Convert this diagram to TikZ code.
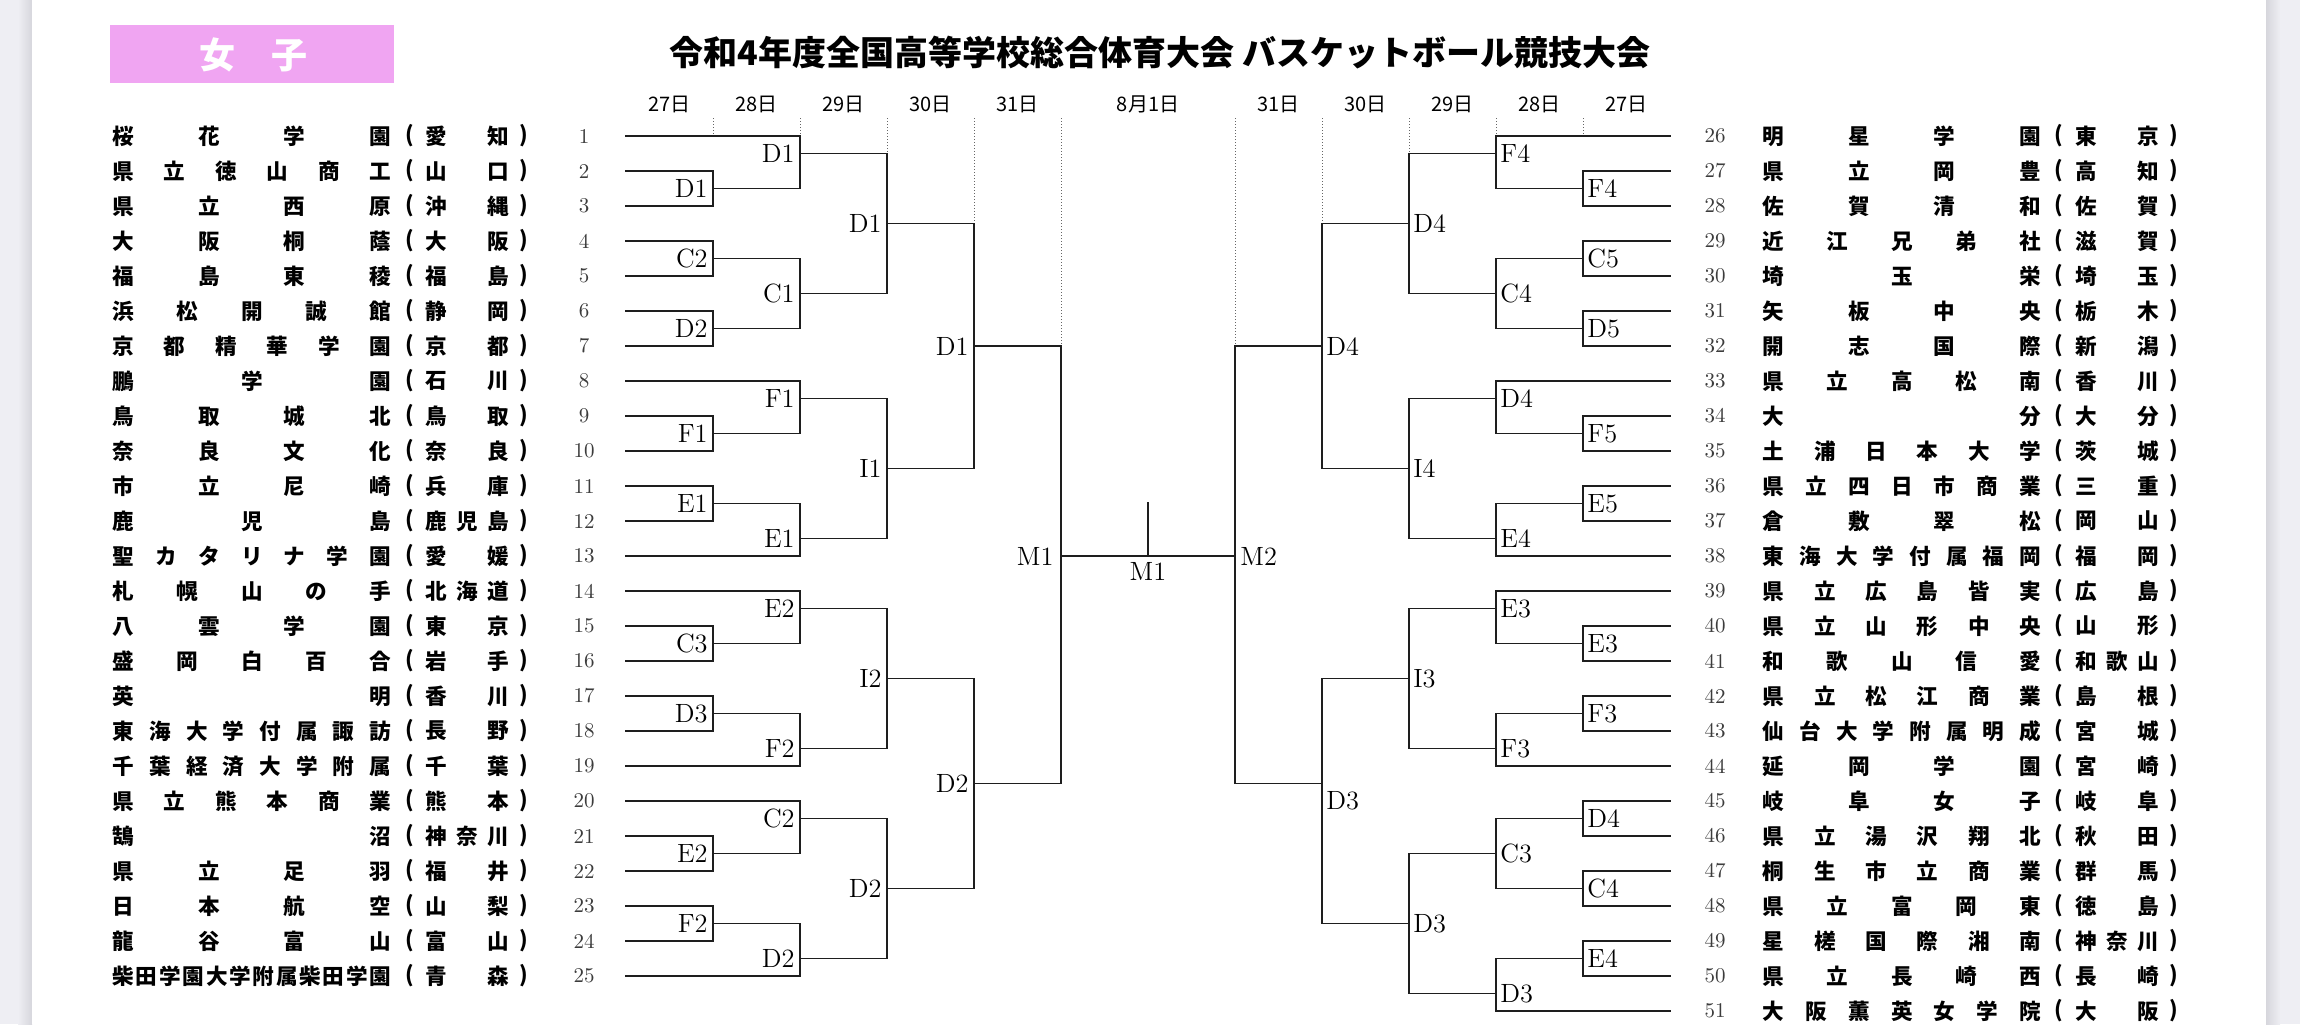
\documentclass[tikz,border=0pt]{standalone}
\usepackage{fontspec}
\newfontfamily\jp{Noto Sans CJK JP}
\definecolor{pinkbox}{RGB}{240,165,242}
\definecolor{bgc}{RGB}{238,238,243}
\definecolor{bgd}{RGB}{214,214,220}
\definecolor{ink}{RGB}{30,30,30}
\definecolor{numc}{RGB}{60,60,60}
\makeatletter
\def\distr#1#2{\hbox to #1{\expandafter\distr@a#2\relax}}
\def\distr@a#1{#1\distr@b}
\def\distr@b#1{\ifx\relax#1\else\hfill#1\expandafter\distr@b\fi}
\makeatother
\def\yy#1{101+35*(#1)}
\begin{document}
\begin{tikzpicture}[x=0.5pt,y=-0.5pt,
  br/.style={line width=0.95pt,draw=ink,line cap=rect},
  dot/.style={line width=0.5pt,draw=black!60,dash pattern=on 0.6pt off 0.9pt},
  lab/.style={font=\fontsize{13.2}{13}\selectfont,inner sep=0pt,text=black},
  num/.style={font=\fontsize{10.5}{11}\selectfont,inner sep=0pt,text=numc},
  nm/.style={font=\jp\bfseries\fontsize{10.8}{11}\selectfont,inner sep=0pt,text=black},
  dt/.style={font=\jp\fontsize{10}{10}\selectfont,inner sep=0pt,text=black}]
\useasboundingbox (0,0) rectangle (2300,1024);
% background sheet
\fill[bgc] (0,0) rectangle (2300,1024);
\shade[left color=bgc,right color=bgd] (18,0) rectangle (32,1024);
\shade[left color=bgd,right color=bgc] (2266,0) rectangle (2280,1024);
\fill[white] (32,0) rectangle (2266,1024);
% header
\fill[pinkbox] (110,25) rectangle (394,83);
\node[font=\jp\bfseries\fontsize{18}{18}\selectfont,text=white,inner sep=0pt] (girls) at (253,55) {女　子};
\node[font=\jp\bfseries\fontsize{17}{17}\selectfont,inner sep=0pt] (title) at (1160,53) {令和4年度全国高等学校総合体育大会 バスケットボール競技大会};
\foreach \x/\t [count=\i] in {669.5/27日,756.5/28日,843.5/29日,930.5/30日,1017.5/31日,1148/8月1日,1278.5/31日,1365.5/30日,1452.5/29日,1539.5/28日,1626.5/27日}
  \node[dt] (day\i) at (\x,104) {\t};
% dotted guides
\foreach \x/\r in {713/1,800/1,887/1.5,974/3.5,1061/7,1235/7,1322/3.5,1409/1.5,1496/1,1583/1}
  \draw[dot] (\x,118) -- (\x,{\yy{\r}});
% left teams
\foreach \n/\s/\p in {1/桜花学園/愛知,2/県立徳山商工/山口,3/県立西原/沖縄,4/大阪桐蔭/大阪,5/福島東稜/福島,6/浜松開誠館/静岡,7/京都精華学園/京都,8/鵬学園/石川,9/鳥取城北/鳥取,10/奈良文化/奈良,11/市立尼崎/兵庫,12/鹿児島/鹿児島,13/聖カタリナ学園/愛媛,14/札幌山の手/北海道,15/八雲学園/東京,16/盛岡白百合/岩手,17/英明/香川,18/東海大学付属諏訪/長野,19/千葉経済大学附属/千葉,20/県立熊本商業/熊本,21/鵠沼/神奈川,22/県立足羽/福井,23/日本航空/山梨,24/龍谷富山/富山,25/柴田学園大学附属柴田学園/青森}{
  \node[num] (ln\n) at (584,{\yy{\n}}) {\n};
  \node[nm,anchor=west] (ls\n) at (112.2,{\yy{\n}}) {\distr{139.3pt}{\s}};
  \node[nm] (lo\n) at (410,{\yy{\n}}) {(};
  \node[nm,anchor=west] (lp\n) at (424.7,{\yy{\n}}) {\distr{42pt}{\p}};
  \node[nm] (lc\n) at (524,{\yy{\n}}) {)};
}
% right teams
\foreach \k/\s/\p in {1/明星学園/東京,2/県立岡豊/高知,3/佐賀清和/佐賀,4/近江兄弟社/滋賀,5/埼玉栄/埼玉,6/矢板中央/栃木,7/開志国際/新潟,8/県立高松南/香川,9/大分/大分,10/土浦日本大学/茨城,11/県立四日市商業/三重,12/倉敷翠松/岡山,13/東海大学付属福岡/福岡,14/県立広島皆実/広島,15/県立山形中央/山形,16/和歌山信愛/和歌山,17/県立松江商業/島根,18/仙台大学附属明成/宮城,19/延岡学園/宮崎,20/岐阜女子/岐阜,21/県立湯沢翔北/秋田,22/桐生市立商業/群馬,23/県立富岡東/徳島,24/星槎国際湘南/神奈川,25/県立長崎西/長崎,26/大阪薫英女学院/大阪}{
  \pgfmathtruncatemacro\nn{\k+25}
  \node[num] (rn\k) at (1715,{\yy{\k}}) {\nn};
  \node[nm,anchor=west] (rs\k) at (1762.2,{\yy{\k}}) {\distr{139.3pt}{\s}};
  \node[nm] (ro\k) at (2059,{\yy{\k}}) {(};
  \node[nm,anchor=west] (rp\k) at (2074.7,{\yy{\k}}) {\distr{42pt}{\p}};
  \node[nm] (rc\k) at (2174,{\yy{\k}}) {)};
}
% left team lines
\foreach \r/\xe in {1/800,2/713,3/713,4/713,5/713,6/713,7/713,8/800,9/713,10/713,11/713,12/713,13/800,14/800,15/713,16/713,17/713,18/713,19/800,20/800,21/713,22/713,23/713,24/713,25/800}
  \draw[br] (626,{\yy{\r}}) -- (\xe,{\yy{\r}});
% right team lines
\foreach \r/\xe in {1/1496,2/1583,3/1583,4/1583,5/1583,6/1583,7/1583,8/1496,9/1583,10/1583,11/1583,12/1583,13/1496,14/1496,15/1583,16/1583,17/1583,18/1583,19/1496,20/1583,21/1583,22/1583,23/1583,24/1583,25/1583,26/1496}
  \draw[br] (1670,{\yy{\r}}) -- (\xe,{\yy{\r}});
% left matches: x/top/bottom/out/label
\foreach \x/\a/\b/\o/\t in {713/2/3/2.5/D1,713/4/5/4.5/C2,713/6/7/6.5/D2,713/9/10/9.5/F1,713/11/12/11.5/E1,713/15/16/15.5/C3,713/17/18/17.5/D3,713/21/22/21.5/E2,713/23/24/23.5/F2,
  800/1/2.5/1.5/D1,800/4.5/6.5/5.5/C1,800/8/9.5/8.5/F1,800/11.5/13/12.5/E1,800/14/15.5/14.5/E2,800/17.5/19/18.5/F2,800/20/21.5/20.5/C2,800/23.5/25/24.5/D2,
  887/1.5/5.5/3.5/D1,887/8.5/12.5/10.5/I1,887/14.5/18.5/16.5/I2,887/20.5/24.5/22.5/D2,
  974/3.5/10.5/7/D1,974/16.5/22.5/19.5/D2}{
  \draw[br] (\x,{\yy{\a}}) -- (\x,{\yy{\b}});
  \draw[br] (\x,{\yy{\o}}) -- ({\x+87},{\yy{\o}});
  \node[lab,anchor=east] at ({\x-5},{\yy{\o}}) {\t};
}
% right matches: x/top/bottom/out/label/labelrow
\foreach \x/\a/\b/\o/\t/\l in {1583/2/3/2.5/F4/2.5,1583/4/5/4.5/C5/4.5,1583/6/7/6.5/D5/6.5,1583/9/10/9.5/F5/9.5,1583/11/12/11.5/E5/11.5,1583/15/16/15.5/E3/15.5,1583/17/18/17.5/F3/17.5,1583/20/21/20.5/D4/20.5,1583/22/23/22.5/C4/22.5,1583/24/25/24.5/E4/24.5,
  1496/1/2.5/1.5/F4/1.5,1496/4.5/6.5/5.5/C4/5.5,1496/8/9.5/8.5/D4/8.5,1496/11.5/13/12.5/E4/12.5,1496/14/15.5/14.5/E3/14.5,1496/17.5/19/18.5/F3/18.5,1496/20.5/22.5/21.5/C3/21.5,1496/24.5/26/25.5/D3/25.5,
  1409/1.5/5.5/3.5/D4/3.5,1409/8.5/12.5/10.5/I4/10.5,1409/14.5/18.5/16.5/I3/16.5,1409/21.5/25.5/23.5/D3/23.5,
  1322/3.5/10.5/7/D4/7,1322/16.5/23.5/19.5/D3/20}{
  \draw[br] (\x,{\yy{\a}}) -- (\x,{\yy{\b}});
  \draw[br] (\x,{\yy{\o}}) -- ({\x-87},{\yy{\o}});
  \node[lab,anchor=west] at ({\x+4},{\yy{\l}}) {\t};
}
% semifinals and final
\coordinate (m1top) at (1061,{\yy{7}});
\coordinate (m1bot) at (1061,{\yy{19.5}});
\coordinate (m2top) at (1235,{\yy{7}});
\coordinate (m2bot) at (1235,{\yy{19.5}});
\coordinate (m1out) at (1061,{\yy{13}});
\coordinate (m2out) at (1235,{\yy{13}});
\coordinate (ctop) at (1148,503);
\coordinate (cmid) at (1148,{\yy{13}});
\draw[br] (m1top) -- (m1bot);
\draw[br] (m2top) -- (m2bot);
\draw[br] (m1out) -- (m2out);
\draw[br] (ctop) -- (cmid);
\node[lab,anchor=east] (m1lab) at (1054,{\yy{13}}) {M1};
\node[lab,anchor=west] (m2lab) at (1240,{\yy{13}}) {M2};
\node[lab] (finlab) at (1148,571) {M1};
\end{tikzpicture}
\end{document}
